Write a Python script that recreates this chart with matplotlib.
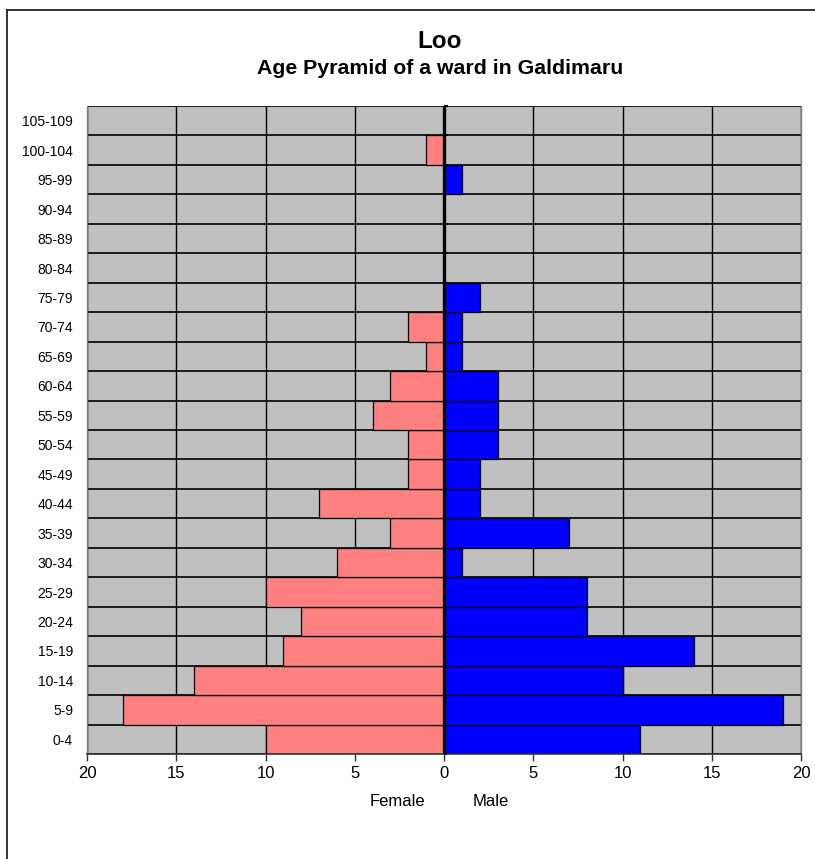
import matplotlib
matplotlib.use("Agg")
import matplotlib.pyplot as plt
from matplotlib.lines import Line2D
import numpy as np

plt.rcParams['font.family'] = ['Liberation Sans', 'DejaVu Sans']

age_groups = ["0-4", "5-9", "10-14", "15-19", "20-24", "25-29", "30-34", "35-39",
              "40-44", "45-49", "50-54", "55-59", "60-64", "65-69", "70-74", "75-79",
              "80-84", "85-89", "90-94", "95-99", "100-104", "105-109"]
female = [10, 18, 14, 9, 8, 10, 6, 3, 7, 2, 2, 4, 3, 1, 2, 0, 0, 0, 0, 0, 1, 0]
male = [11, 19, 10, 14, 8, 8, 1, 7, 2, 2, 3, 3, 3, 1, 1, 2, 0, 0, 0, 1, 0, 0]
x_ticks = [-20, -15, -10, -5, 0, 5, 10, 15, 20]

W, H = 815, 859
fig = plt.figure(figsize=(W / 100, H / 100), dpi=100)
fig.patch.set_facecolor("white")

# outer chart frame (top and left edges)
fig.add_artist(Line2D([7 / W, 1.0], [1 - 9.5 / H, 1 - 9.5 / H], color="#222222", lw=1.3,
                      transform=fig.transFigure))
fig.add_artist(Line2D([7 / W, 7 / W], [0.0, 1 - 9.5 / H], color="#222222", lw=1.3,
                      transform=fig.transFigure))

left, right, top, bottom = 87, 801, 106, 754
ax = fig.add_axes([left / W, 1 - bottom / H, (right - left) / W, (bottom - top) / H])
ax.set_facecolor("#C0C0C0")

y = np.arange(len(age_groups))
ax.barh(y, -np.array(female), height=1.0, color="#FF8080", edgecolor="black", lw=0.9, zorder=2)
ax.barh(y, male, height=1.0, color="#0000FF", edgecolor="black", lw=0.9, zorder=2)

ax.set_xlim(-20, 20)
ax.set_ylim(-0.5, len(age_groups) - 0.5)

ax.set_yticks(y)
ax.set_yticklabels(age_groups, fontsize=10)
ax.tick_params(axis="y", length=0, pad=10)
ax.set_yticks(np.arange(len(age_groups) + 1) - 0.5, minor=True)
ax.tick_params(axis="y", which="minor", length=0)

ax.set_xticks(x_ticks)
ax.set_xticklabels([str(abs(v)) for v in x_ticks], fontsize=12)
ax.tick_params(axis="x", length=5, width=1, direction="out", color="#333333", pad=4)

ax.grid(True, axis="x", which="major", color="black", lw=1.0, zorder=1)
ax.grid(True, axis="y", which="minor", color="black", lw=1.2, zorder=1)
ax.set_axisbelow(True)

for side in ("left", "right", "top"):
    ax.spines[side].set_color("#808080")
    ax.spines[side].set_linewidth(1.0)
ax.spines["top"].set_visible(False)
ax.spines["bottom"].set_color("#333333")
ax.spines["bottom"].set_linewidth(1.2)

# vertical axis drawn through zero, on top of the bars
ax.axvline(0, color="black", lw=2.4, zorder=6)
center = ax.secondary_yaxis(0.5)
center.set_yticks(np.arange(len(age_groups) + 1) - 0.5)
center.set_yticklabels([])
center.spines["left"].set_linewidth(2.4)
center.spines["left"].set_color("black")
center.tick_params(length=3, width=1.5, color="black")

title_x = 440 / W
fig.text(title_x, 1 - 41 / H, "Loo", ha="center", va="center", fontsize=17.5, fontweight="bold")
fig.text(title_x, 1 - 69 / H, "Age Pyramid of a ward in Galdimaru", ha="center", va="center",
         fontsize=15.3, fontweight="bold")
fig.text(397 / W, 1 - 802 / H, "Female", ha="center", va="center", fontsize=12)
fig.text(491 / W, 1 - 802 / H, "Male", ha="center", va="center", fontsize=12)

fig.savefig("out.png", dpi=100, facecolor="white")
